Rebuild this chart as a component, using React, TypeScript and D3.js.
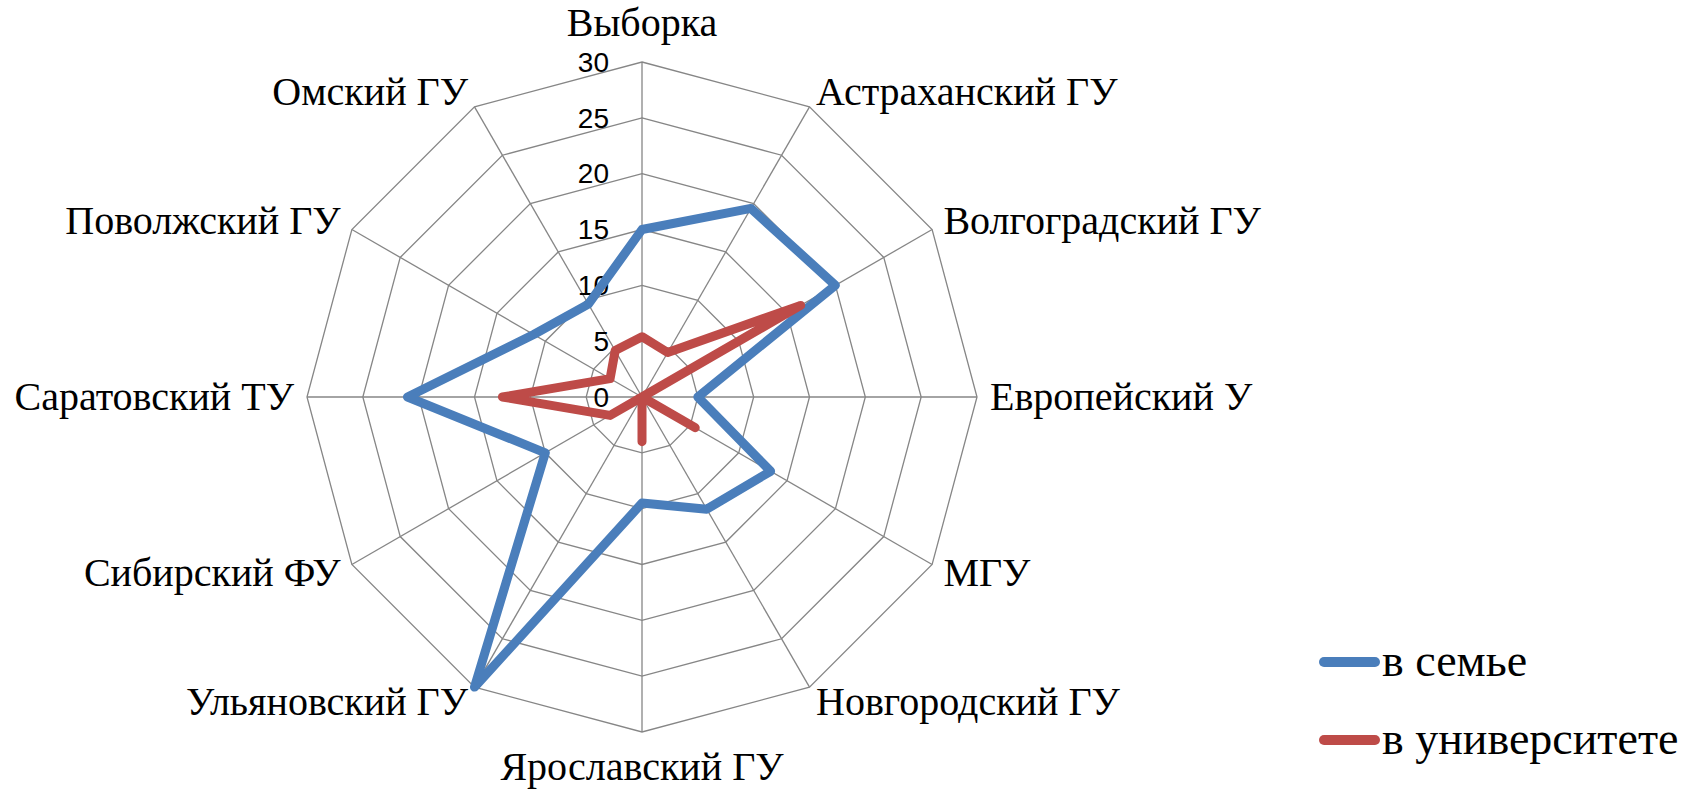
import React, { useEffect, useRef } from 'react';
import * as d3 from 'd3';

const categories = [
  'Выборка',
  'Астраханский ГУ',
  'Волгоградский ГУ',
  'Европейский У',
  'МГУ',
  'Новгородский ГУ',
  'Ярославский ГУ',
  'Ульяновский ГУ',
  'Сибирский ФУ',
  'Саратовский ТУ',
  'Поволжский ГУ',
  'Омский ГУ',
];

const familyValues = [15, 19.5, 20, 5, 13.3, 11.6, 9.5, 30, 10, 21, 11.2, 9.6];
const universityValues = [5.4, 4.6, 16.4, 0, 5.5, 0, 4, 0, 3.3, 12.5, 3.3, 4.8];

const tickValues = [0, 5, 10, 15, 20, 25, 30];

const seriesNames = ['в семье', 'в университете'];
const seriesColors = ['#4a7ebb', '#be4b48'];

const WIDTH = 1698;
const HEIGHT = 790;

const App: React.FC = () => {
  const svgRef = useRef<SVGSVGElement>(null);

  useEffect(() => {
    if (!svgRef.current) return;
    const svg = d3.select(svgRef.current);
    svg.selectAll('*').remove();

    const cx = 642;
    const cy = 397;
    const R = 335;

    const r = d3.scaleLinear().domain([0, 30]).range([0, R]);
    const angle = d3
      .scalePoint<string>()
      .domain(categories)
      .range([0, 2 * Math.PI * (1 - 1 / categories.length)]);

    const pt = (cat: string, v: number): [number, number] => {
      const a = angle(cat)!;
      return [cx + r(v) * Math.sin(a), cy - r(v) * Math.cos(a)];
    };

    svg.append('rect').attr('width', WIDTH).attr('height', HEIGHT).attr('fill', '#fff');

    const grid = svg.append('g');

    // rings
    tickValues.slice(1).forEach((t) => {
      grid
        .append('path')
        .attr('d', d3.line()(categories.map((c) => pt(c, t))) + 'Z')
        .attr('fill', 'none')
        .attr('stroke', '#868686')
        .attr('stroke-width', 1.3);
    });

    // spokes
    categories.forEach((c) => {
      const [x, y] = pt(c, 30);
      grid
        .append('line')
        .attr('x1', cx)
        .attr('y1', cy)
        .attr('x2', x)
        .attr('y2', y)
        .attr('stroke', '#868686')
        .attr('stroke-width', 1.3);
    });

    // tick labels
    svg
      .append('g')
      .selectAll('text')
      .data(tickValues)
      .enter()
      .append('text')
      .attr('x', cx - 33)
      .attr('y', (d) => cy - r(d))
      .attr('dy', '0.35em')
      .attr('text-anchor', 'end')
      .attr('font-family', '"Liberation Sans", Arial, sans-serif')
      .attr('font-size', 28)
      .attr('fill', '#000')
      .text((d) => d);

    // series
    [familyValues, universityValues].forEach((vals, i) => {
      const points = categories.map((c, j) => pt(c, vals[j]));
      svg
        .append('path')
        .attr('d', d3.line()(points) + 'Z')
        .attr('fill', 'none')
        .attr('stroke', seriesColors[i])
        .attr('stroke-width', 9)
        .attr('stroke-linejoin', 'round');
    });

    // category labels
    const labels = svg.append('g')
      .attr('font-family', '"Liberation Serif", "Times New Roman", serif')
      .attr('font-size', 40)
      .attr('fill', '#000');

    categories.forEach((c) => {
      const a = angle(c)!;
      const s = Math.sin(a);
      const co = Math.cos(a);
      const pad = 13;
      const x = cx + (R + pad) * s;
      let y = cy - (R + pad) * co;
      let anchor = 'middle';
      if (s > 0.1) anchor = 'start';
      else if (s < -0.1) anchor = 'end';
      if (Math.abs(s) < 0.1) y -= co > 0 ? 26 : -22;
      else y -= co * 4;
      labels
        .append('text')
        .attr('x', x)
        .attr('y', y)
        .attr('dy', '0.33em')
        .attr('text-anchor', anchor)
        .text(c);
    });

    // legend
    const legend = svg.append('g');
    seriesNames.forEach((name, i) => {
      const ly = 662 + i * 78;
      legend
        .append('line')
        .attr('x1', 1324)
        .attr('x2', 1375)
        .attr('y1', ly)
        .attr('y2', ly)
        .attr('stroke', seriesColors[i])
        .attr('stroke-width', 10)
        .attr('stroke-linecap', 'round');
      legend
        .append('text')
        .attr('x', 1382)
        .attr('y', ly)
        .attr('dy', '0.3em')
        .attr('font-family', '"Liberation Serif", "Times New Roman", serif')
        .attr('font-size', 46)
        .attr('fill', '#000')
        .text(name);
    });
  }, []);

  return (
    <svg
      ref={svgRef}
      width={WIDTH}
      height={HEIGHT}
      style={{ position: 'absolute', left: 0, top: 0, display: 'block' }}
    />
  );
};

export default App;
